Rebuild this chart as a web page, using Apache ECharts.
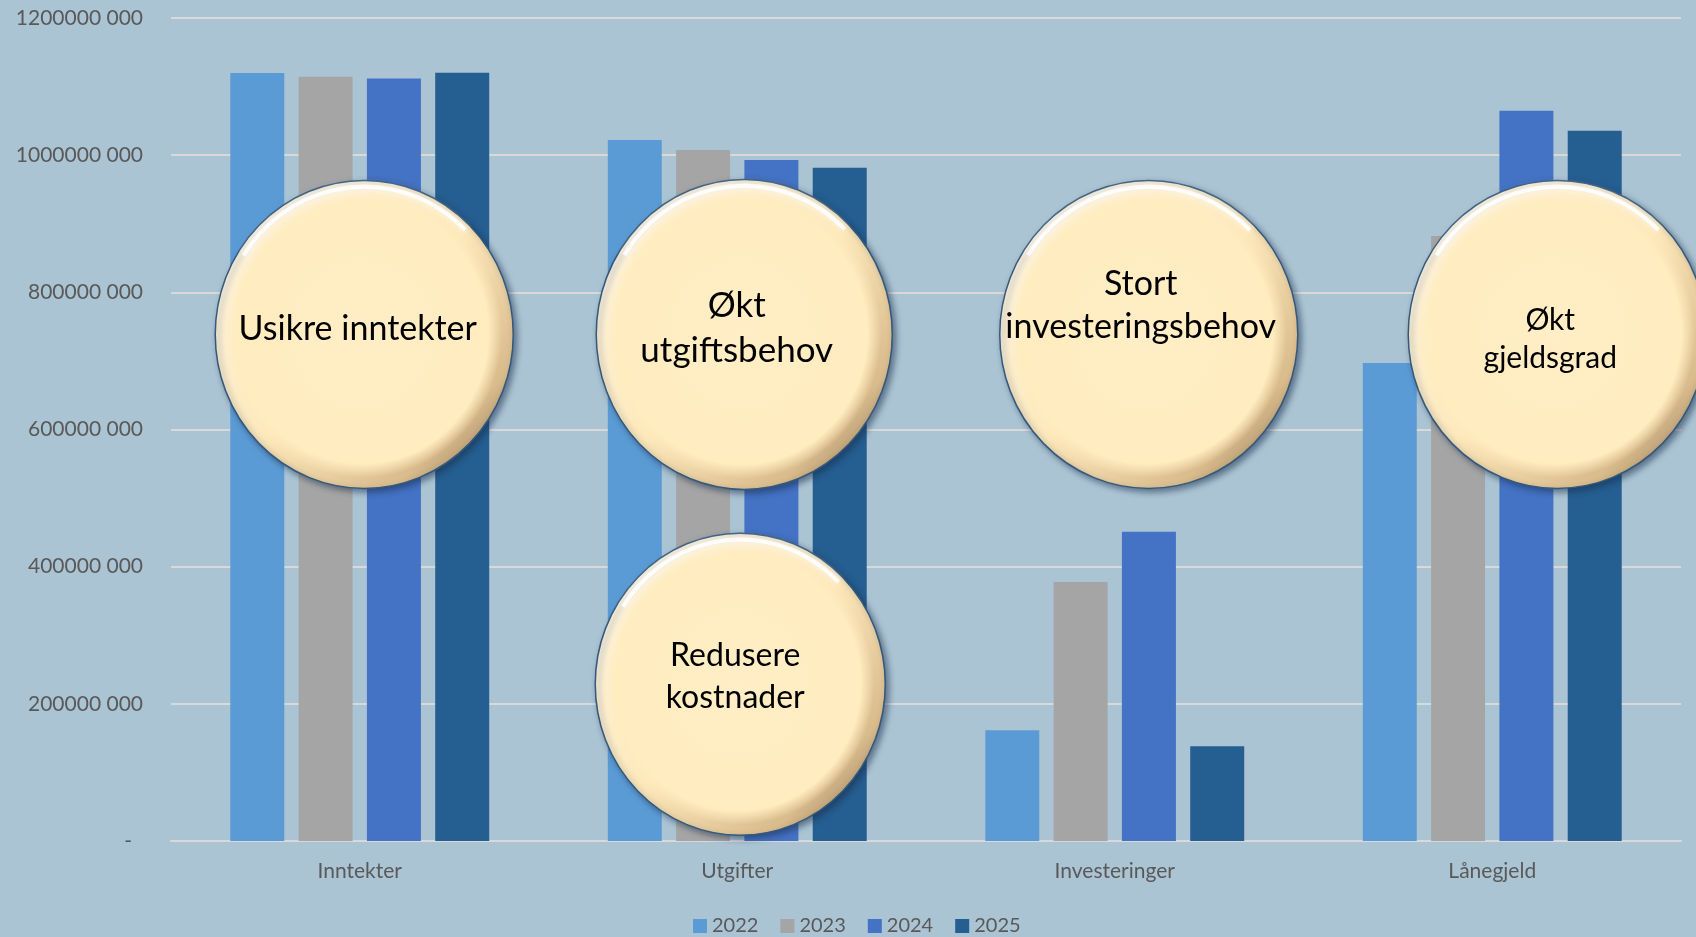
<!DOCTYPE html>
<html>
<head>
<meta charset="utf-8" />
<title>Økonomi 2022-2025</title>
<style>
  html, body { margin: 0; padding: 0; background: #abc4d4; }
  #main { width: 1696px; height: 937px; }
</style>
</head>
<body>
<div id="main"></div>
<script src="https://cdn.jsdelivr.net/npm/echarts@6.0.0/dist/echarts.min.js"></script>
<script>
// kategorier og verdier (kr)
var categories = ['Inntekter', 'Utgifter', 'Investeringer', 'Lånegjeld'];
var years = ['2022', '2023', '2024', '2025'];
var v2022 = [1119700000, 1022000000, 161500000, 697000000];
var v2023 = [1114300000, 1007400000, 377500000, 882300000];
var v2024 = [1111800000, 992800000, 450900000, 1064700000];
var v2025 = [1120200000, 981500000, 138200000, 1035500000];
var yTicks = [0, 200000000, 400000000, 600000000, 800000000, 1000000000, 1200000000];

// tekstbobler
var bubbleTexts = ['Usikre inntekter', 'Økt\nutgiftsbehov', 'Stort\ninvesteringsbehov', 'Økt\ngjeldsgrad', 'Redusere\nkostnader'];
var bubbleCats = ['Inntekter', 'Utgifter', 'Investeringer', 'Lånegjeld', 'Utgifter'];
var bubbleLevels = [738600000, 738600000, 738600000, 738600000, 228600000];

var colors = ['#5b9bd5', '#a5a5a5', '#4472c4', '#255e91'];
var font = 'Lato, "Open Sans", sans-serif';

var chart = echarts.init(document.getElementById('main'));

function yLabel(v) {
  if (v === 0) return '{d|-}';
  return (v / 1000) + ' 000';
}

var seriesData = [v2022, v2023, v2024, v2025];
var series = [];
for (var i = 0; i < years.length; i++) {
  series.push({
    name: years[i],
    type: 'bar',
    data: seriesData[i],
    barWidth: 54,
    barGap: '26.5%',
    itemStyle: { color: colors[i] },
    emphasis: { disabled: true }
  });
}

chart.setOption({
  backgroundColor: '#abc4d4',
  animation: false,
  grid: { left: 171, right: 15, top: 18, bottom: 96, containLabel: false },
  legend: {
    data: years,
    left: 688,
    top: 911,
    icon: 'rect',
    itemWidth: 14,
    itemHeight: 14,
    itemGap: 22,
    textStyle: { color: '#595959', fontSize: 20, fontFamily: font }
  },
  xAxis: {
    type: 'category',
    data: categories,
    axisLine: { lineStyle: { color: '#d9d9d9', width: 2 } },
    axisTick: { show: false },
    axisLabel: { color: '#595959', fontSize: 21, fontFamily: font, margin: 20 }
  },
  yAxis: {
    type: 'value',
    min: yTicks[0],
    max: yTicks[yTicks.length - 1],
    interval: yTicks[1] - yTicks[0],
    axisLine: { show: false },
    axisTick: { show: false },
    splitLine: { lineStyle: { color: '#d9d9d9', width: 2 } },
    axisLabel: {
      color: '#595959', fontSize: 21, fontFamily: font, margin: 28,
      formatter: yLabel,
      rich: { d: { color: '#595959', fontSize: 21, fontFamily: font, padding: [0, 11, 0, 0] } }
    }
  },
  series: series
});

// boblene plasseres ut fra aksene
var bubbleDx = [4.5, 7, 34, 65, 3];
var bubbleRx = [149, 148, 149, 149, 145];
var bubbleRy = [154, 155, 154, 154, 151];
var textDx = [-6.5, -7.5, -8, -7, -5];
var textDy = [-5.5, -6, -28.5, 5, -8];
var textSize = [34, 35, 34, 30, 32];
var textLine = [44, 45, 43, 38, 42];
var graphics = [];
for (var k = 0; k < bubbleTexts.length; k++) {
  var p = chart.convertToPixel({ xAxisIndex: 0, yAxisIndex: 0 }, [bubbleCats[k], bubbleLevels[k]]);
  var R = bubbleRx[k];
  graphics.push({
    type: 'group',
    x: p[0] + bubbleDx[k],
    y: p[1],
    children: [
      {
        type: 'group',
        scaleY: bubbleRy[k] / bubbleRx[k],
        children: [
          {
            type: 'circle',
            z: 100,
            shape: { cx: 0, cy: 0, r: R },
            style: {
              fill: new echarts.graphic.LinearGradient(0, 0, 1, 1, [
                { offset: 0, color: '#fffaf0' },
                { offset: 0.5, color: '#fde8ba' },
                { offset: 0.8, color: '#d9bb8c' },
                { offset: 1, color: '#7d6448' }
              ]),
              stroke: '#34597a',
              lineWidth: 1.5,
              shadowBlur: 6,
              shadowOffsetX: 3,
              shadowOffsetY: 3,
              shadowColor: 'rgba(25,45,75,0.55)'
            }
          },
          {
            type: 'circle',
            z: 101,
            shape: { cx: -2, cy: -1, r: R - 9 },
            style: {
              fill: new echarts.graphic.RadialGradient(0.5, 0.5, 0.5, [
                { offset: 0, color: '#ffeec6' },
                { offset: 0.9, color: '#ffecbf' },
                { offset: 1, color: 'rgba(254,234,188,0)' }
              ])
            }
          },
          {
            type: 'arc',
            z: 102,
            shape: { cx: 0, cy: 0, r: R - 6, startAngle: -Math.PI * 0.82, endAngle: -Math.PI * 0.25, clockwise: true },
            style: {
              fill: null,
              stroke: 'rgba(255,255,255,0.85)',
              lineWidth: 4,
              shadowBlur: 6,
              shadowColor: 'rgba(255,255,255,0.9)'
            }
          }
        ]
      },
      {
        type: 'text',
        z: 103,
        x: textDx[k],
        y: textDy[k],
        style: {
          text: bubbleTexts[k],
          fill: '#000000',
          fontSize: textSize[k],
          fontFamily: font,
          lineHeight: textLine[k],
          align: 'center',
          verticalAlign: 'middle'
        }
      }
    ]
  });
}
chart.setOption({ graphic: graphics });
</script>
</body>
</html>
